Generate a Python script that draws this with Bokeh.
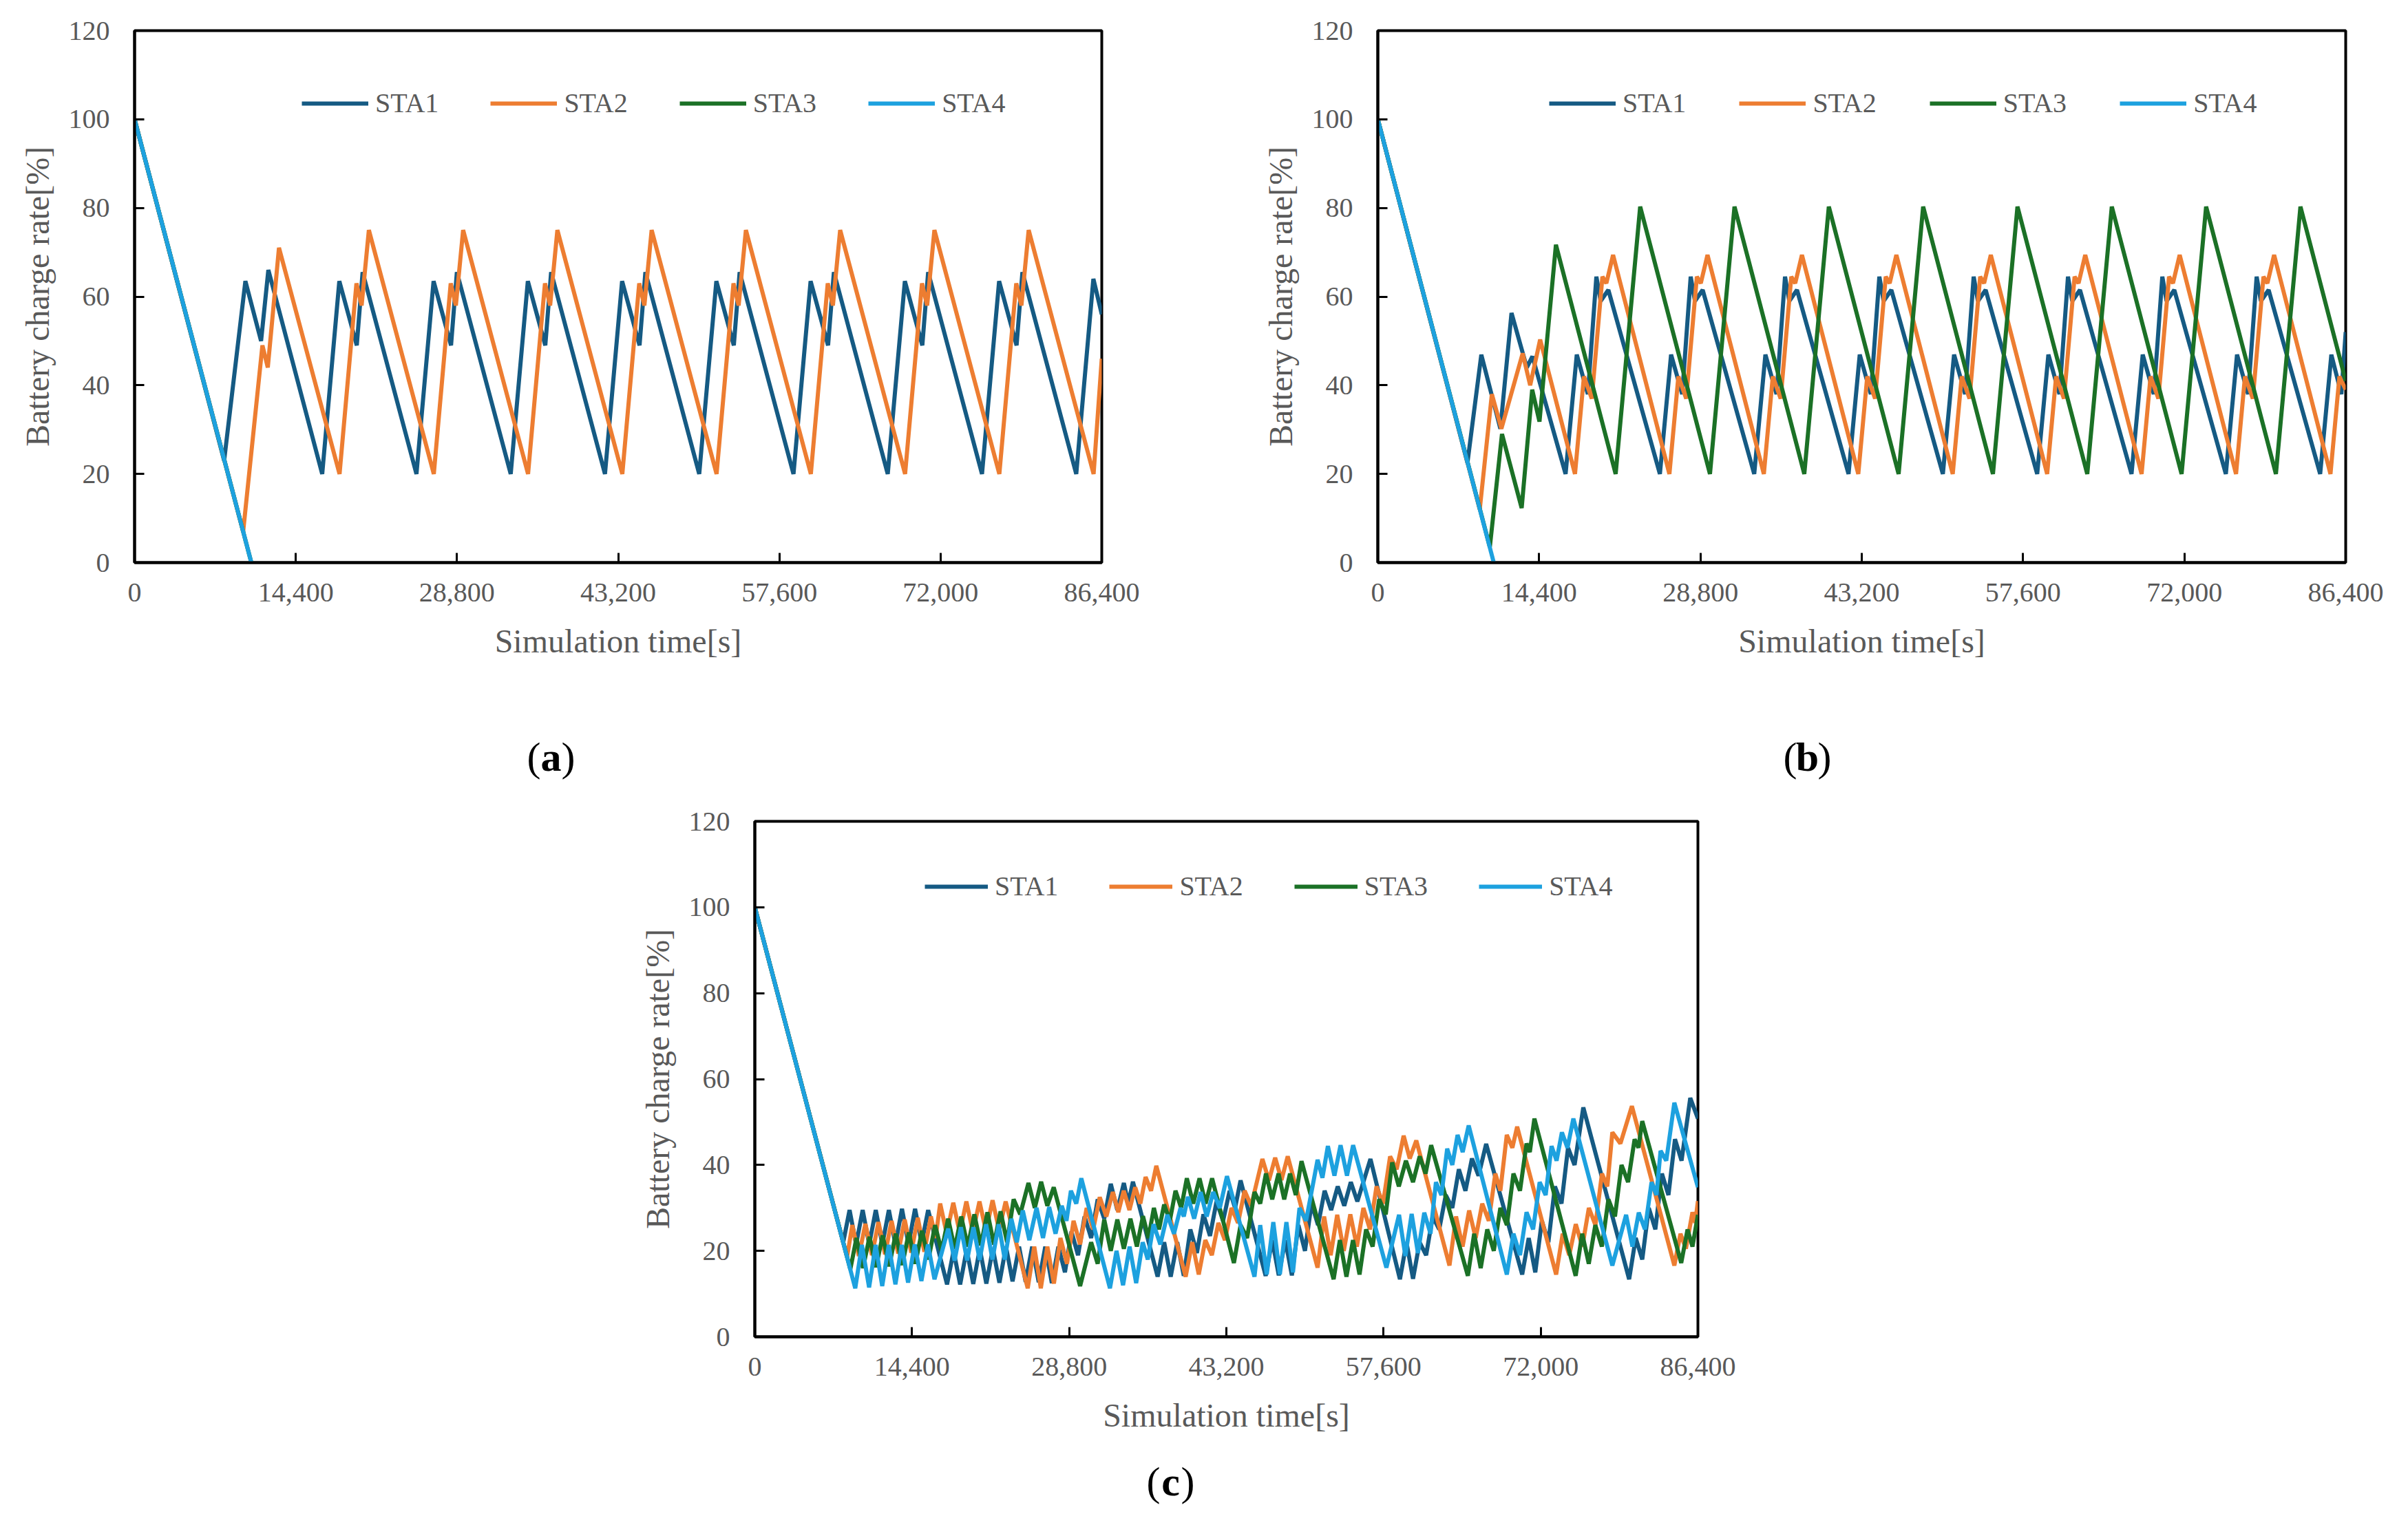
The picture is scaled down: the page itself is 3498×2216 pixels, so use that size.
from bokeh.plotting import figure
from bokeh.models import Range1d, FixedTicker, NumeralTickFormatter, Legend, LegendItem, Spacer
from bokeh.layouts import column, row
from bokeh.core.properties import value
from bokeh.embed import file_html
from bokeh.resources import INLINE

# ---------------- data ----------------
series_names = ["STA1", "STA2", "STA3", "STA4"]
x_ticks = [0, 14400, 28800, 43200, 57600, 72000, 86400]
y_ticks = [0, 20, 40, 60, 80, 100, 120]
panel_letters = ["a", "b", "c"]

# (time [s], battery charge rate [%]) vertices
a_sta1 = [(0, 100), (8000, 23), (9900, 63.5), (11300, 50), (11950, 66),
          (16760, 20), (18290, 63.5), (19850, 49), (20370, 65.5),
          (25180, 20), (26710, 63.5), (28270, 49), (28790, 65.5),
          (33600, 20), (35130, 63.5), (36690, 49), (37210, 65.5),
          (42020, 20), (43550, 63.5), (45110, 49), (45630, 65.5),
          (50440, 20), (51970, 63.5), (53530, 49), (54050, 65.5),
          (58860, 20), (60390, 63.5), (61950, 49), (62470, 65.5),
          (67280, 20), (68810, 63.5), (70370, 49), (70890, 65.5),
          (75700, 20), (77230, 63.5), (78790, 49), (79310, 65.5),
          (84120, 20), (85650, 64), (86400, 56)]
a_sta2 = [(0, 100), (9700, 7), (11420, 49), (11900, 44), (12900, 71),
          (18310, 20), (19820, 63), (20280, 58), (20930, 75),
          (26730, 20), (28240, 63), (28700, 58), (29350, 75),
          (35150, 20), (36660, 63), (37120, 58), (37770, 75),
          (43570, 20), (45080, 63), (45540, 58), (46190, 75),
          (51990, 20), (53500, 63), (53960, 58), (54610, 75),
          (60410, 20), (61920, 63), (62380, 58), (63030, 75),
          (68830, 20), (70340, 63), (70800, 58), (71450, 75),
          (77250, 20), (78760, 63), (79220, 58), (79870, 75),
          (85670, 20), (86400, 46)]
a_sta3 = [(0, 100), (10430, 0)]
a_sta4 = [(0, 100), (10430, 0)]

b_sta1 = [(0, 100), (8000, 22.5), (9240, 46.9), (10940, 30.2), (11935, 56.3), (13300, 44), (13800, 46.5),
          (16760, 20), (17760, 46.9), (18750, 38), (19510, 64.5), (19890, 59), (20580, 61.5),
          (25180, 20), (26180, 46.9), (27170, 38), (27930, 64.5), (28310, 59), (29000, 61.5),
          (33600, 20), (34600, 46.9), (35590, 38), (36350, 64.5), (36730, 59), (37420, 61.5),
          (42020, 20), (43020, 46.9), (44010, 38), (44770, 64.5), (45150, 59), (45840, 61.5),
          (50440, 20), (51440, 46.9), (52430, 38), (53190, 64.5), (53570, 59), (54260, 61.5),
          (58860, 20), (59860, 46.9), (60850, 38), (61610, 64.5), (61990, 59), (62680, 61.5),
          (67280, 20), (68280, 46.9), (69270, 38), (70030, 64.5), (70410, 59), (71100, 61.5),
          (75700, 20), (76700, 46.9), (77690, 38), (78450, 64.5), (78830, 59), (79520, 61.5),
          (84120, 20), (85120, 46.9), (86010, 38), (86400, 52)]
b_sta2 = [(0, 100), (9100, 12), (10180, 38), (11030, 30.2), (12930, 47.2), (13600, 40), (14490, 50.3),
          (17600, 20), (18400, 42), (19100, 37), (20050, 64.5), (20400, 63), (21000, 69.4),
          (26030, 20), (26830, 42), (27530, 37), (28480, 64.5), (28830, 63), (29430, 69.4),
          (34460, 20), (35260, 42), (35960, 37), (36910, 64.5), (37260, 63), (37860, 69.4),
          (42890, 20), (43690, 42), (44390, 37), (45340, 64.5), (45690, 63), (46290, 69.4),
          (51320, 20), (52120, 42), (52820, 37), (53770, 64.5), (54120, 63), (54720, 69.4),
          (59750, 20), (60550, 42), (61250, 37), (62200, 64.5), (62550, 63), (63150, 69.4),
          (68180, 20), (68980, 42), (69680, 37), (70630, 64.5), (70980, 63), (71580, 69.4),
          (76610, 20), (77410, 42), (78110, 37), (79060, 64.5), (79410, 63), (80010, 69.4),
          (85040, 20), (85840, 42), (86400, 39)]
b_sta3 = [(0, 100), (10000, 3.5), (11085, 29), (12840, 12.3), (13780, 39), (14430, 31.8), (15900, 71.7),
          (21230, 20), (23420, 80.3), (29650, 20), (31840, 80.3), (38070, 20), (40260, 80.3),
          (46490, 20), (48680, 80.3), (54910, 20), (57100, 80.3), (63330, 20), (65520, 80.3),
          (71750, 20), (73940, 80.3), (80170, 20), (82360, 80.3), (86400, 41)]
b_sta4 = [(0, 100), (10350, 0)]

c_sta1 = [(0, 100), (8100, 22), (8680, 29.5), (9280, 21.5), (9880, 29.5), (10480, 21.5), (11080, 29.5),
          (11680, 21.5), (12280, 29.5), (12880, 21.5), (13480, 29.8), (14080, 21.5), (14680, 29.8),
          (15280, 21.8), (15880, 29.5), (17610, 12.2), (18210, 20), (18810, 12.2), (19410, 20.3),
          (20010, 12.3), (20610, 20.5), (21210, 12.4), (21810, 20.5), (22410, 12.6), (23010, 21),
          (23610, 12.9), (24210, 21), (24810, 12.8), (25410, 21), (26010, 12.7), (26610, 21),
          (27210, 12.5), (27810, 21), (28410, 15), (29010, 24.5), (29610, 19), (30210, 28),
          (30810, 23), (31410, 32), (32010, 27.5), (32610, 35.6), (33210, 29.5), (33810, 35.8),
          (34210, 31), (34640, 36.1), (36900, 14), (37500, 22), (38100, 14), (38700, 22),
          (39300, 14.2), (39900, 25), (40500, 19.5), (41100, 28.5), (41700, 23.5), (42300, 31.5),
          (42900, 27), (43500, 34), (44000, 30), (44500, 36.4), (46800, 14.2), (47400, 22.5),
          (48000, 14.3), (48600, 22.5), (49200, 14.3), (49800, 26), (50400, 20), (51000, 31),
          (51600, 26), (52200, 34), (52800, 29.5), (53400, 35), (54000, 30.5), (54600, 36),
          (55200, 31.5), (56400, 41.4), (59100, 13.4), (59700, 22), (60300, 13.5), (60900, 22),
          (61500, 19), (62100, 28), (62700, 25), (63300, 33), (63900, 30), (64500, 39),
          (65100, 34), (65700, 41.5), (66300, 37.5), (67000, 44.9), (70300, 14.5), (70900, 23),
          (71500, 15), (72100, 27), (72700, 22), (73300, 35), (73900, 31), (74500, 44),
          (75100, 40), (75900, 53.4), (80100, 13.4), (80700, 23), (81300, 18), (81900, 30),
          (82500, 25), (83100, 38), (83700, 33), (84300, 46), (84900, 41), (85700, 55.6),
          (86400, 50.8)]
c_sta2 = [(0, 100), (8450, 18.6), (8930, 26), (9530, 18.8), (10130, 26.3), (10730, 19), (11330, 26.7),
          (11930, 19.2), (12530, 27), (13130, 19.4), (13730, 27.3), (14330, 19.6), (14930, 27.7),
          (15530, 19.8), (16130, 28), (16560, 23), (16980, 31), (17580, 24), (18180, 31.2),
          (18780, 24.2), (19380, 31.5), (19980, 24.4), (20580, 31.5), (21180, 24.6), (21780, 31.8),
          (22380, 24.8), (22980, 31.5), (25000, 11.3), (25600, 21), (26200, 11.3), (26800, 21),
          (27400, 12.4), (28000, 23), (28600, 17), (29200, 27), (29800, 21.5), (30400, 30),
          (31000, 25), (31600, 32.5), (32200, 28), (32800, 33.7), (33300, 29), (33800, 34),
          (34320, 29.5), (34850, 34.8), (35320, 31), (35800, 37.2), (36300, 34), (36780, 39.8),
          (39470, 14), (40070, 22), (40670, 14.5), (41270, 22.5), (41870, 19), (42470, 26.5),
          (43070, 22.5), (43670, 30), (44270, 26.5), (44870, 34), (45470, 30.5), (46500, 41.4),
          (47100, 36.4), (47670, 41.7), (48250, 36.5), (48820, 42), (51555, 16.1), (52155, 28),
          (52755, 19), (53355, 28.4), (53955, 20), (54555, 28.5), (55155, 21), (55755, 30),
          (56355, 25), (56955, 35), (57550, 31), (58200, 42), (58800, 39), (59440, 46.8),
          (60000, 41.5), (60600, 45.7), (63640, 16.6), (64240, 28), (64840, 21), (65440, 29.4),
          (66040, 23), (66640, 31), (67240, 27), (67840, 38), (68300, 34), (68890, 47),
          (69400, 44), (69840, 48.9), (73410, 14.5), (74010, 24), (74610, 19), (75210, 26.2),
          (75810, 21), (76410, 30), (77010, 26), (77610, 38), (78100, 35), (78560, 47.6),
          (79300, 45), (80350, 53.7), (84240, 16.6), (84800, 24), (85300, 20.5), (85900, 29),
          (86150, 26.5), (86400, 31.6)]
c_sta3 = [(0, 100), (8750, 15.7), (9310, 23), (9910, 16), (10510, 23.3), (11110, 16.2), (11710, 23.6),
          (12310, 16.4), (12910, 24), (13510, 16.7), (14110, 24.3), (14710, 17), (15310, 24.7),
          (15910, 18), (16510, 26), (17110, 20), (17710, 27.5), (18310, 20.5), (18910, 28),
          (19510, 21), (20110, 28.5), (20710, 21.3), (21310, 29), (21910, 21.5), (22510, 29.2),
          (23110, 22), (23710, 32), (24310, 28.5), (25070, 35.8), (25650, 30), (26230, 36.1),
          (26800, 30.5), (27385, 34.8), (29800, 11.8), (30810, 22), (31410, 17), (32010, 27.3),
          (32610, 20), (33210, 27.3), (33810, 20.5), (34410, 27.5), (35000, 21), (35560, 28.1),
          (36060, 23), (36560, 30), (37030, 25), (37500, 30.8), (38020, 27), (38540, 34),
          (39060, 30), (39580, 36.9), (40160, 31), (40740, 36.9), (41300, 31), (41890, 36.9),
          (43890, 17.2), (44500, 26), (45100, 23), (45775, 33.7), (46300, 31), (46826, 38),
          (47400, 32), (47980, 38), (48500, 32), (49030, 38), (49560, 33), (50084, 40.9),
          (53027, 13.4), (53600, 22.5), (54200, 14), (54800, 22.5), (55400, 14.5), (56000, 25),
          (56600, 21), (57200, 32), (57800, 28.5), (58390, 40.6), (59000, 35), (59650, 41),
          (60300, 36), (60910, 42), (61450, 38), (61960, 44.6), (65323, 14.2), (65900, 24),
          (66500, 16), (67100, 25), (67700, 20), (68300, 30), (68900, 26), (69500, 38),
          (70100, 34), (70700, 45), (71000, 43), (71420, 50.8), (75200, 14.2), (75800, 24),
          (76400, 17), (77000, 26), (77600, 21), (78200, 32), (78800, 28), (79400, 40),
          (80000, 36), (80600, 46), (80950, 44), (81300, 50.2), (84870, 17.2), (85450, 25),
          (85900, 21), (86400, 28.4)]
c_sta4 = [(0, 100), (9200, 11.3), (9810, 21.4), (10470, 11.5), (11070, 21.4), (11670, 11.8), (12270, 21.4),
          (12880, 12.2), (13460, 21.4), (14040, 12.6), (14650, 21.5), (15260, 13), (15860, 21.5),
          (16460, 13.4), (17720, 25.2), (18300, 17.7), (18880, 25.5), (19450, 17.8), (20030, 25.5),
          (20600, 17.9), (21190, 26.2), (21770, 18), (22340, 26.2), (22900, 18), (23500, 27.5),
          (24000, 22), (24550, 29.4), (25150, 22.5), (25810, 30), (26400, 23), (26965, 30.2),
          (27550, 24), (28120, 30.5), (28550, 27), (28960, 34), (29450, 31), (29910, 36.9),
          (32535, 11.3), (33135, 20), (33735, 12), (34335, 21), (34935, 12.5), (35535, 22),
          (36000, 18), (36530, 26.2), (37150, 21.5), (37790, 28.4), (38400, 24), (39000, 30),
          (39300, 28), (39680, 32.6), (40250, 27.5), (40840, 33.7), (41400, 28), (41995, 33.7),
          (42600, 30), (43255, 37.4), (45775, 14), (46300, 26), (46900, 14.5), (47500, 26.7),
          (48100, 14.5), (48700, 26.7), (49300, 15), (49900, 30), (50500, 27), (51555, 41.2),
          (52000, 37), (52500, 44.4), (53100, 37.5), (53660, 44.6), (54250, 37.5), (54810, 44.6),
          (57860, 16.1), (59020, 28.4), (59600, 18.8), (60175, 28.6), (60750, 19.5), (61330, 28.9),
          (61900, 24), (62400, 36), (62900, 33), (63430, 43.8), (63900, 40), (64380, 47),
          (64850, 43), (65400, 49.2), (68893, 14.5), (69500, 24), (70100, 19), (70700, 29),
          (71300, 25), (71900, 36), (72450, 33), (72990, 44.4), (73450, 41), (73940, 47.6),
          (74450, 44), (74990, 50.8), (78560, 16.6), (79820, 28.4), (80400, 21), (80980, 28.9),
          (81550, 25), (82150, 36), (82600, 33), (82980, 43.3), (83500, 41), (84240, 54.5),
          (86400, 34.8)]

# ---------------- style ----------------
FONT = "Liberation Serif"
GRAY = "#595959"
COLORS = ["#155A83", "#ED7D31", "#1B7126", "#1DA1DF"]
LW = 6


def make_panel(data, w, h, bl, bt, br, bb, leg_x, leg_y, glyph_w, leg_spacing):
    p = figure(width=w, height=h, x_range=Range1d(0, 86400), y_range=Range1d(0, 120),
               output_backend="svg", toolbar_location=None,
               min_border_left=bl, min_border_top=bt, min_border_right=br, min_border_bottom=bb)
    p.background_fill_color = "white"
    p.border_fill_color = "white"
    p.xgrid.visible = False
    p.ygrid.visible = False
    p.outline_line_color = "black"
    p.outline_line_width = 4
    p.outline_line_alpha = 1.0
    p.xaxis.ticker = FixedTicker(ticks=x_ticks)
    p.yaxis.ticker = FixedTicker(ticks=y_ticks)
    p.xaxis.formatter = NumeralTickFormatter(format="0,0")
    for ax in (p.xaxis[0], p.yaxis[0]):
        ax.axis_line_width = 4
        ax.axis_line_color = "black"
        ax.major_tick_in = 14
        ax.major_tick_out = 0
        ax.major_tick_line_width = 3
        ax.major_tick_line_color = "black"
        ax.minor_tick_line_color = None
        ax.major_label_text_font = FONT
        ax.major_label_text_font_size = "40px"
        ax.major_label_text_color = GRAY
        ax.axis_label_text_font = FONT
        ax.axis_label_text_font_size = "48px"
        ax.axis_label_text_font_style = "normal"
        ax.axis_label_text_color = GRAY
    p.xaxis.axis_label = "Simulation time[s]"
    p.yaxis.axis_label = "Battery charge rate[%]"
    p.xaxis.major_label_standoff = 30
    p.yaxis.major_label_standoff = 36
    p.xaxis.axis_label_standoff = 28
    p.yaxis.axis_label_standoff = 16

    items = []
    for name, pts, col in zip(series_names, data, COLORS):
        xs = [t for t, v in pts]
        ys = [v for t, v in pts]
        r = p.line(xs, ys, line_color=col, line_width=LW)
        items.append(LegendItem(label=name, renderers=[r]))
    leg = Legend(items=items, orientation="horizontal", location=(leg_x, leg_y),
                 glyph_width=glyph_w, glyph_height=40, label_height=40, label_standoff=10,
                 spacing=leg_spacing, padding=0, margin=0,
                 border_line_alpha=0, background_fill_alpha=0,
                 label_text_font=FONT, label_text_font_size="40px", label_text_color=GRAY)
    p.add_layout(leg)
    return p


def make_caption(w, h, cx, cy, letter):
    p = figure(width=w, height=h, x_range=Range1d(0, w), y_range=Range1d(0, h),
               output_backend="svg", toolbar_location=None, min_border=0,
               x_axis_type=None, y_axis_type=None)
    p.xgrid.visible = False
    p.ygrid.visible = False
    p.outline_line_color = None
    p.background_fill_color = "white"
    p.border_fill_color = "white"
    p.text(x=[cx - 25, cx + 25], y=[cy, cy], text=["(", ")"],
           text_font=value(FONT), text_font_size="60px", text_font_style="normal",
           text_color="black", text_align="center", text_baseline="middle")
    p.text(x=[cx], y=[cy], text=[letter],
           text_font=value(FONT), text_font_size="60px", text_font_style="bold",
           text_color="black", text_align="center", text_baseline="middle")
    return p


pa = make_panel([a_sta1, a_sta2, a_sta3, a_sta4], 1720, 1040, 195, 44, 120, 223,
                243, 644, 97, 75)
pb = make_panel([b_sta1, b_sta2, b_sta3, b_sta4], 1762, 1040, 281, 44, 75, 223,
                249, 644, 97, 77)
pc = make_panel([c_sta1, c_sta2, c_sta3, c_sta4], 1700, 960, 196, 43, 134, 168,
                247, 631, 92, 74)

cap_a = make_caption(1720, 110, 800, 51, panel_letters[0])
cap_b = make_caption(1762, 110, 905, 51, panel_letters[1])
cap_c = make_caption(1700, 80, 800, 38, panel_letters[2])

layout = column(row(pa, pb), row(cap_a, cap_b),
                row(Spacer(width=900, height=960), pc),
                row(Spacer(width=900, height=80), cap_c))

open("out.html", "w").write(file_html(layout, INLINE))
